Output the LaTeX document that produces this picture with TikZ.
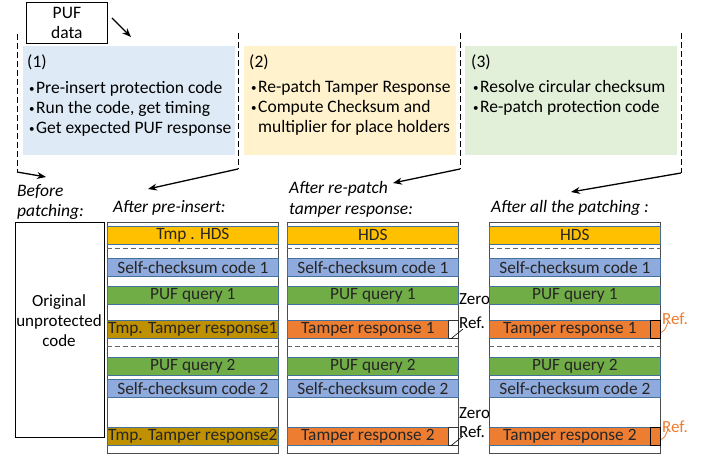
\documentclass[tikz,border=0pt]{standalone}
\usepackage{fontspec}
\setmainfont{Carlito}
\usetikzlibrary{arrows.meta}
\definecolor{bluebg}{HTML}{DEEBF7}
\definecolor{yellowbg}{HTML}{FFF2CC}
\definecolor{greenbg}{HTML}{E2F0D9}
\definecolor{hds}{HTML}{FFC000}
\definecolor{chk}{HTML}{8FAADC}
\definecolor{puf}{HTML}{70AD47}
\definecolor{tamp}{HTML}{ED7D31}
\definecolor{tmpc}{HTML}{BF9000}
\definecolor{bandline}{HTML}{41719C}
\newcommand{\mybul}{\hspace{2pt}\makebox[7pt][l]{\raisebox{1.3pt}{\fontsize{11}{11}\selectfont •}}}
\begin{document}
\begin{tikzpicture}[x=1pt,y=-1pt,
  txt/.style={font=\fontsize{17.5}{20}\selectfont, inner sep=0pt, anchor=base west},
  lbl/.style={font=\fontsize{17.5}{20}\selectfont\itshape, inner sep=0pt, anchor=base west},
  small/.style={font=\fontsize{17}{20}\selectfont, inner sep=0pt, anchor=base west},
  band/.style={draw=bandline, line width=0.7pt, minimum height=18pt, inner sep=0pt, anchor=north west, font=\fontsize{17.3}{18}\selectfont, text=black!85},
  full/.style={band, minimum width=171pt},
  part/.style={band, minimum width=161pt},
  col/.style={draw=black!70, line width=0.8pt, anchor=north west, minimum width=171pt, minimum height=231pt, inner sep=0pt},
  bg/.style={anchor=north west, inner sep=0pt, minimum width=212pt, minimum height=109pt},
  vdash/.style={dash pattern=on 6pt off 3pt, line width=0.8pt},
  arr/.style={-{Stealth[length=9pt,width=7pt]}, line width=1.3pt},
  sepline/.style={draw=black!60, line width=0.8pt, dash pattern=on 5pt off 3pt}
]
\useasboundingbox (0,0) rectangle (705,457);

% top colored boxes
\node[bg, fill=bluebg] (b1) at (23,46) {};
\node[bg, fill=yellowbg] (b2) at (244,46) {};
\node[bg, fill=greenbg] (b3) at (465,46) {};

% PUF data
\node[draw=black, line width=0.8pt, anchor=north west, minimum width=81pt, minimum height=41pt, inner sep=0pt, align=center, font=\fontsize{17.5}{20}\selectfont] (puf) at (26,2) {PUF\\data};
\coordinate (pa1) at (112,18);
\coordinate (pa2) at (131,37);
\draw[arr] (pa1) -- (pa2);

% box texts
\node[txt] (t1a) at (27,68) {(1)};
\node[txt] (t1b) at (27,94) {\mybul Pre-insert protection code};
\node[txt] (t1c) at (27,114) {\mybul Run the code, get timing};
\node[txt] (t1d) at (27,134) {\mybul Get expected PUF response};

\node[txt] (t2a) at (249,68) {(2)};
\node[txt] (t2b) at (249,93) {\mybul Re-patch Tamper Response};
\node[txt] (t2c) at (249,113) {\mybul Compute Checksum and};
\node[txt] (t2d) at (258,133) {multiplier for place holders};

\node[txt] (t3a) at (471,68) {(3)};
\node[txt] (t3b) at (471,93) {\mybul Resolve circular checksum};
\node[txt] (t3c) at (471,113) {\mybul Re-patch protection code};

% dashed vertical lines and arrows
\coordinate (v1t) at (17,34);   \coordinate (v1b) at (17,172);
\coordinate (v2t) at (238,33);  \coordinate (v2b) at (238,169);
\coordinate (v3t) at (460,33);  \coordinate (v3b) at (460,169);
\coordinate (v4t) at (681,33);  \coordinate (v4b) at (681,173);
\draw[vdash] (v1t) -- (v1b);
\draw[vdash] (v2t) -- (v2b);
\draw[vdash] (v3t) -- (v3b);
\draw[vdash] (v4t) -- (v4b);
\coordinate (e1) at (46,177);
\coordinate (e2) at (148,189);
\coordinate (e3) at (393,183);
\coordinate (e4) at (571,192);
\draw[arr] (v1b) -- (e1);
\draw[arr] (v2b) -- (e2);
\draw[arr] (v3b) -- (e3);
\draw[arr] (v4b) -- (e4);

% column labels
\node[lbl] (l1a) at (17,197) {Before};
\node[lbl] (l1b) at (17,217) {patching:};
\node[lbl] (l2) at (113,213) {After pre-insert:};
\node[lbl] (l3a) at (289,194) {After re-patch};
\node[lbl] (l3b) at (289,215) {tamper response:};
\node[lbl] (l4) at (491,213) {After all the patching :};

% original column
\node[draw=black, line width=0.8pt, anchor=north west, minimum width=89pt, minimum height=215pt, inner sep=0pt] (orig) at (15,222) {};
\node[align=center, font=\fontsize{17}{20}\selectfont, inner sep=0pt] (origt) at (59,321) {Original\\unprotected\\code};

% column 2
\node[col] (c2) at (107,222) {};
\node[full, fill=hds] (c2h) at (107,226) {Tmp . HDS};
\draw[sepline] (c2.west |- 0,248) -- (c2.east |- 0,248);
\node[full, fill=chk] (c2s1) at (107,258) {Self-checksum code 1};
\node[full, fill=puf] (c2p1) at (107,286) {PUF query 1};
\node[full, fill=tmpc] (c2t1) at (107,320) {Tmp. Tamper response1};
\draw[sepline] (c2.west |- 0,346) -- (c2.east |- 0,346);
\node[full, fill=puf] (c2p2) at (107,357) {PUF query 2};
\node[full, fill=chk] (c2s2) at (107,379) {Self-checksum code 2};
\node[full, fill=tmpc] (c2t2) at (107,427) {Tmp. Tamper response2};

% column 3
\node[col] (c3) at (287,222) {};
\node[full, fill=hds] (c3h) at (287,226) {HDS};
\draw[sepline] (c3.west |- 0,248) -- (c3.east |- 0,248);
\node[full, fill=chk] (c3s1) at (287,258) {Self-checksum code 1};
\node[full, fill=puf] (c3p1) at (287,286) {PUF query 1};
\node[part, fill=tamp] (c3t1) at (287,320) {Tamper response 1};
\node[draw=black!80, line width=0.7pt, fill=white, anchor=north west, minimum width=10pt, minimum height=18pt, inner sep=0pt] (c3z1) at (448,320) {};
\draw[sepline] (c3.west |- 0,346) -- (c3.east |- 0,346);
\node[full, fill=puf] (c3p2) at (287,357) {PUF query 2};
\node[full, fill=chk] (c3s2) at (287,379) {Self-checksum code 2};
\node[part, fill=tamp] (c3t2) at (287,427) {Tamper response 2};
\node[draw=black!80, line width=0.7pt, fill=white, anchor=north west, minimum width=10pt, minimum height=18pt, inner sep=0pt] (c3z2) at (448,427) {};
\node[small] (z1a) at (459,305) {Zero};
\node[small] (z1b) at (459,329) {Ref.};
\node[small] (z2a) at (459,418) {Zero};
\node[small] (z2b) at (459,438) {Ref.};
\coordinate (zl1) at (463,329);
\coordinate (zl2) at (463,436);
\draw[line width=0.6pt] ([xshift=3pt]c3z1.south west) -- (zl1);
\draw[line width=0.6pt] ([xshift=3pt]c3z2.south west) -- (zl2);

% column 4
\node[col] (c4) at (489,222) {};
\node[full, fill=hds] (c4h) at (489,226) {HDS};
\draw[sepline] (c4.west |- 0,248) -- (c4.east |- 0,248);
\node[full, fill=chk] (c4s1) at (489,258) {Self-checksum code 1};
\node[full, fill=puf] (c4p1) at (489,286) {PUF query 1};
\node[part, fill=tamp] (c4t1) at (489,320) {Tamper response 1};
\node[draw=black, line width=1pt, fill=tamp, anchor=north west, minimum width=10pt, minimum height=18pt, inner sep=0pt] (c4r1) at (650,320) {};
\draw[sepline] (c4.west |- 0,346) -- (c4.east |- 0,346);
\node[full, fill=puf] (c4p2) at (489,357) {PUF query 2};
\node[full, fill=chk] (c4s2) at (489,379) {Self-checksum code 2};
\node[part, fill=tamp] (c4t2) at (489,427) {Tamper response 2};
\node[draw=black, line width=1pt, fill=tamp, anchor=north west, minimum width=10pt, minimum height=18pt, inner sep=0pt] (c4r2) at (650,427) {};
\node[small, text=tamp] (r1) at (662,325) {Ref.};
\node[small, text=tamp] (r2) at (662,432) {Ref.};
\coordinate (rl1) at (668,322);
\coordinate (rl2) at (668,429);
\draw[tamp, line width=0.8pt] ([yshift=-3pt]c4r1.east) .. controls (665,330) .. (rl1);
\draw[tamp, line width=0.8pt] ([yshift=-3pt]c4r2.east) .. controls (665,437) .. (rl2);
\end{tikzpicture}
\end{document}
